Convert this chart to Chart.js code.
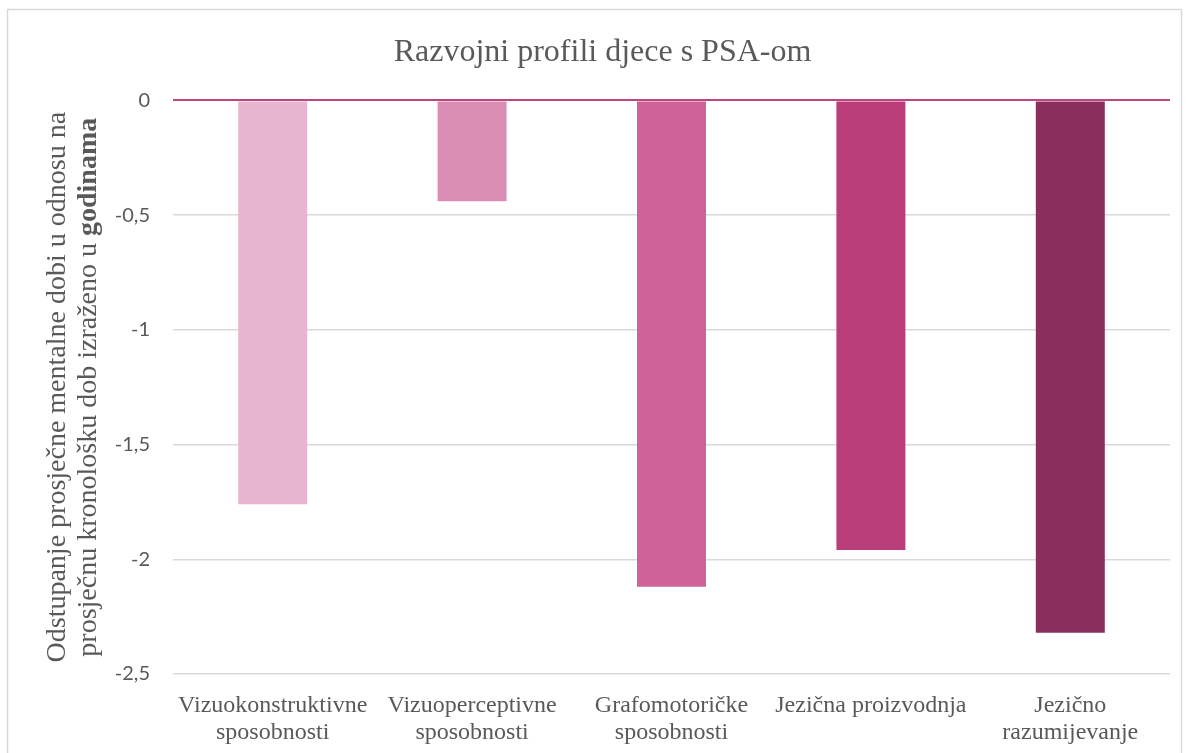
<!DOCTYPE html>
<html>
<head>
<meta charset="utf-8">
<script src="https://cdn.jsdelivr.net/npm/chart.js@4.4.1/dist/chart.umd.min.js"></script>
<style>
  html, body { margin: 0; padding: 0; background: #fff; }
  #wrap { position: relative; width: 1190px; height: 753px; }
</style>
</head>
<body>
<div id="wrap"><canvas id="chart" width="1190" height="753"></canvas></div>
<script>
// Données du graphique
const categories = [
    ['Vizuokonstruktivne', 'sposobnosti'],
    ['Vizuoperceptivne', 'sposobnosti'],
    ['Grafomotoričke', 'sposobnosti'],
    'Jezična proizvodnja',
    ['Jezično', 'razumijevanje']
];
const values = [-1.76, -0.44, -2.12, -1.96, -2.32];
const barColors = ['#E7B5CF', '#DA8DB3', '#CE6399', '#B83D78', '#8A2E5C'];
const yTicks = [0, -0.5, -1, -1.5, -2, -2.5];

const textColor = '#595959';
const serif = '"Liberation Serif", "Times New Roman", serif';

// Cadre gris autour du graphique
const framePlugin = {
    id: 'frame',
    beforeDraw(chart) {
        const ctx = chart.ctx;
        ctx.save();
        ctx.strokeStyle = '#D9D9D9';
        ctx.lineWidth = 1.5;
        ctx.strokeRect(7.5, 9.5, 1174, 800);
        ctx.restore();
    }
};

// Titre de l'axe Y sur deux lignes, avec "godinama" en gras
const yTitlePlugin = {
    id: 'yTitle',
    afterDraw(chart) {
        const ctx = chart.ctx;
        const area = chart.chartArea;
        const cy = (area.top + area.bottom) / 2;
        const normal = '28px ' + serif;
        const bold = 'bold 28px ' + serif;
        ctx.save();
        ctx.fillStyle = textColor;
        ctx.textBaseline = 'alphabetic';
        ctx.translate(65, cy);
        ctx.rotate(-Math.PI / 2);
        // ligne 1
        ctx.font = normal;
        ctx.textAlign = 'center';
        ctx.fillText('Odstupanje prosječne mentalne dobi u odnosu na', 0, 0);
        // ligne 2
        const part1 = 'prosječnu kronološku dob izraženo u ';
        const part2 = 'godinama';
        ctx.font = normal;
        const w1 = ctx.measureText(part1).width;
        ctx.font = bold;
        const w2 = ctx.measureText(part2).width;
        const start = -(w1 + w2) / 2;
        ctx.textAlign = 'left';
        ctx.font = normal;
        ctx.fillText(part1, start, 31);
        ctx.font = bold;
        ctx.fillText(part2, start + w1, 31);
        ctx.restore();
    }
};

new Chart(document.getElementById('chart').getContext('2d'), {
    type: 'bar',
    data: {
        labels: categories,
        datasets: [{
            data: values,
            backgroundColor: barColors,
            borderWidth: 0,
            barPercentage: 0.346,
            categoryPercentage: 1
        }]
    },
    options: {
        responsive: false,
        animation: false,
        layout: { padding: { left: 35, right: 20, top: 0, bottom: 0 } },
        plugins: {
            legend: { display: false },
            tooltip: { enabled: false },
            title: {
                display: true,
                text: 'Razvojni profili djece s PSA-om',
                color: textColor,
                font: { family: serif, size: 32, weight: 'normal', lineHeight: 1.2 },
                padding: { top: 33, bottom: 29 }
            }
        },
        scales: {
            x: {
                grid: { display: false },
                border: { display: false },
                ticks: {
                    color: textColor,
                    padding: 10,
                    maxRotation: 0,
                    autoSkip: false,
                    font: { family: serif, size: 24, lineHeight: 1.12 }
                },
                afterFit(scale) { scale.height = 79; }
            },
            y: {
                min: -2.5,
                max: 0,
                border: { display: false },
                grid: {
                    drawTicks: false,
                    color: ctx => ctx.tick && ctx.tick.value === 0 ? '#C0457F' : '#D9D9D9',
                    lineWidth: ctx => ctx.tick && ctx.tick.value === 0 ? 2 : 1.5
                },
                afterBuildTicks(scale) {
                    scale.ticks = yTicks.map(v => ({ value: v }));
                },
                ticks: {
                    color: textColor,
                    padding: 23,
                    font: { family: 'Lato, "Open Sans", sans-serif', size: 20 },
                    callback: v => String(v).replace('.', ',')
                },
                afterFit(scale) { scale.width = 138; }
            }
        }
    },
    plugins: [framePlugin, yTitlePlugin]
});
</script>
</body>
</html>
